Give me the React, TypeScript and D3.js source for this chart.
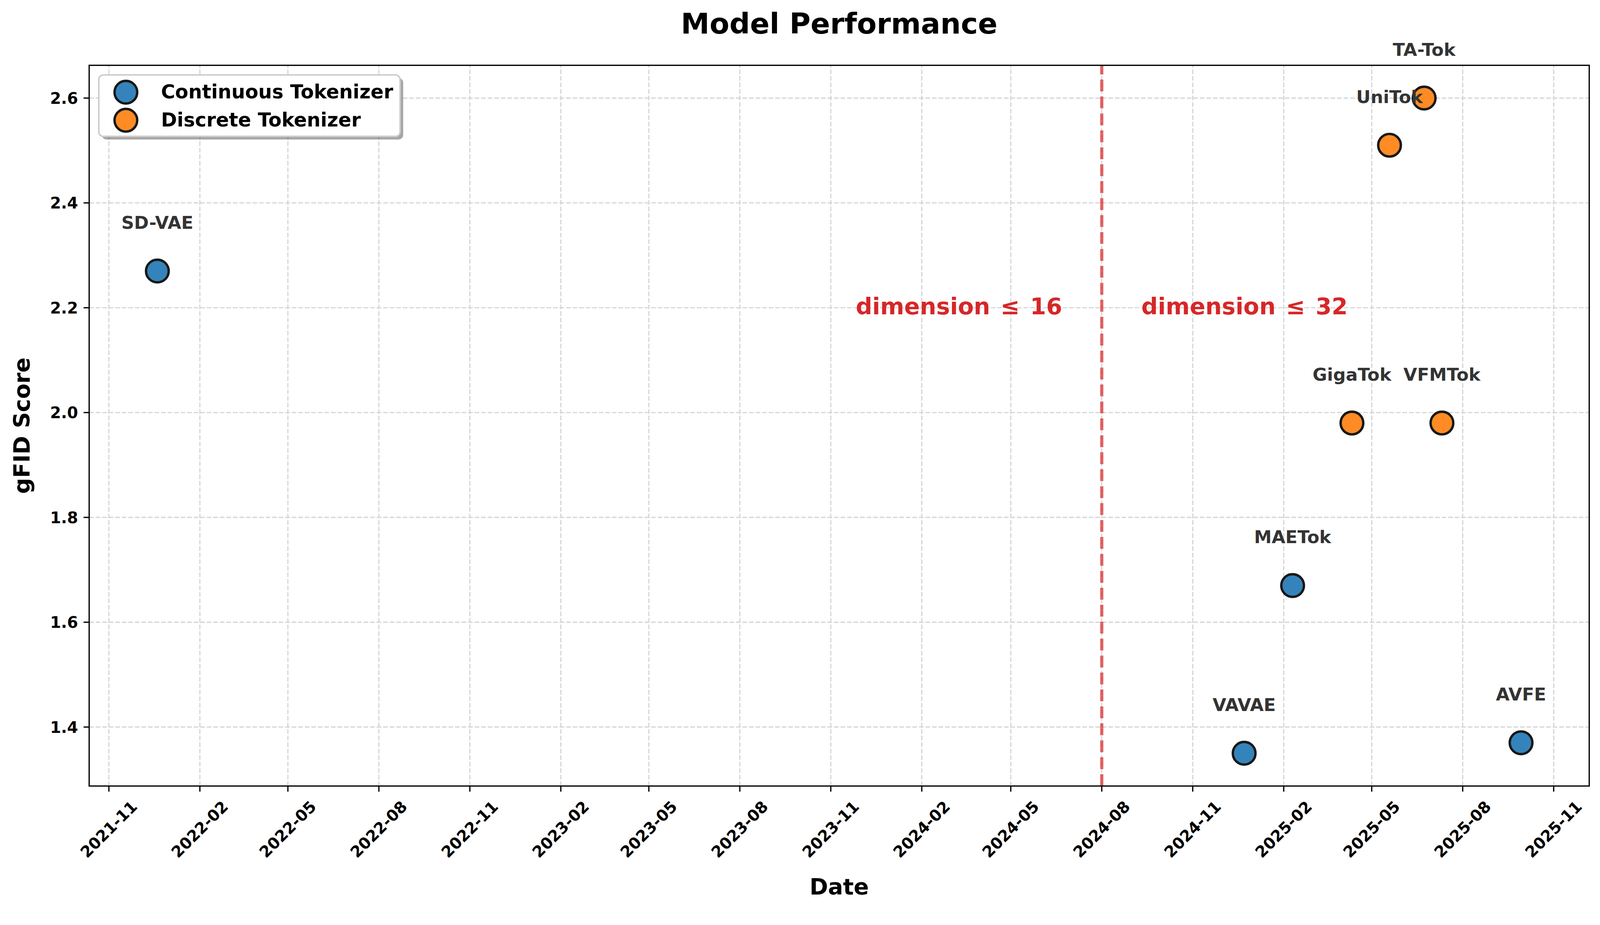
import React, { useEffect, useRef } from 'react';
import * as d3 from 'd3';

// data
const models = ['SD-VAE', 'VAVAE', 'MAETok', 'AVFE', 'GigaTok', 'UniTok', 'TA-Tok', 'VFMTok'];
const releaseDates = ['2021-12-20', '2024-12-23', '2025-02-10', '2025-09-29', '2025-04-11', '2025-05-19', '2025-06-23', '2025-07-11'];
const gfidScores = [2.27, 1.35, 1.67, 1.37, 1.98, 2.51, 2.6, 1.98];
const tokenizerKinds = ['Continuous', 'Continuous', 'Continuous', 'Continuous', 'Discrete', 'Discrete', 'Discrete', 'Discrete'];

const seriesKinds = ['Continuous', 'Discrete'];
const seriesNames = ['Continuous Tokenizer', 'Discrete Tokenizer'];

const xTickLabels = [
  '2021-11', '2022-02', '2022-05', '2022-08', '2022-11', '2023-02', '2023-05', '2023-08',
  '2023-11', '2024-02', '2024-05', '2024-08', '2024-11', '2025-02', '2025-05', '2025-08', '2025-11',
];
const yTicks = [1.4, 1.6, 1.8, 2.0, 2.2, 2.4, 2.6];

const splitDate = '2024-08-01';
const regionLabels = ['dimension \u200A\u2264\u200A 16', 'dimension \u200A\u2264\u200A 32'];
const regionOffsetDays = 40;
const regionY = 2.2;

const W = 4163;
const H = 2369;
const M = { left: 232, right: 4135, top: 170, bottom: 2046 };
const FONT = '"DejaVu Sans", sans-serif';

const App: React.FC = () => {
  const svgRef = useRef<SVGSVGElement>(null);

  useEffect(() => {
    document.body.style.margin = '0';
    document.body.style.overflow = 'hidden';
    if (!svgRef.current) return;
    const svg = d3.select(svgRef.current);
    svg.selectAll('*').remove();

    const parse = d3.utcParse('%Y-%m-%d');
    const parseMonth = d3.utcParse('%Y-%m');
    const pts = models.map((name, i) => ({
      name,
      date: parse(releaseDates[i]) as Date,
      score: gfidScores[i],
      kind: tokenizerKinds[i],
    }));

    // matplotlib-like 5% auto margins
    const [t0, t1] = d3.extent(pts, d => d.date.getTime()) as [number, number];
    const padX = (t1 - t0) * 0.05;
    const x = d3.scaleUtc().domain([new Date(t0 - padX), new Date(t1 + padX)]).range([M.left, M.right]);
    const [s0, s1] = d3.extent(gfidScores) as [number, number];
    const padY = (s1 - s0) * 0.05;
    const y = d3.scaleLinear().domain([s0 - padY, s1 + padY]).range([M.bottom, M.top]);

    const color = d3.scaleOrdinal<string, string>().domain(seriesKinds).range(['#1f77b4', '#ff7f0e']);
    const xTicks = xTickLabels.map(s => parseMonth(s) as Date);

    svg.append('rect').attr('width', W).attr('height', H).attr('fill', '#fff');

    // grid
    const grid = svg.append('g').attr('stroke', '#d4d4d4').attr('stroke-width', 3).attr('stroke-dasharray', '12 5');
    grid.selectAll('line.gx').data(xTicks).enter().append('line')
      .attr('x1', d => x(d)).attr('x2', d => x(d)).attr('y1', M.bottom).attr('y2', M.top);
    grid.selectAll('line.gy').data(yTicks).enter().append('line')
      .attr('x1', M.left).attr('x2', M.right).attr('y1', d => y(d)).attr('y2', d => y(d));

    // split line
    const sx = x(parse(splitDate) as Date);
    svg.append('line')
      .attr('x1', sx).attr('x2', sx).attr('y1', M.bottom).attr('y2', M.top)
      .attr('stroke', '#d62728').attr('stroke-opacity', 0.7)
      .attr('stroke-width', 8.3).attr('stroke-dasharray', '30.8 13.3');

    const splitTime = (parse(splitDate) as Date).getTime();
    const dayMs = 86400000;
    regionLabels.forEach((label, i) => {
      const side = i === 0 ? -1 : 1;
      svg.append('text')
        .attr('x', x(new Date(splitTime + side * regionOffsetDays * dayMs)))
        .attr('y', y(regionY) + 17)
        .attr('text-anchor', i === 0 ? 'end' : 'start')
        .attr('font-family', FONT).attr('font-weight', 'bold').attr('font-size', 60)
        .attr('fill', '#d62728')
        .text(label);
    });

    // points
    svg.selectAll('circle.pt').data(pts).enter().append('circle')
      .attr('cx', d => x(d.date)).attr('cy', d => y(d.score)).attr('r', 29.5)
      .attr('fill', d => color(d.kind)).attr('stroke', '#000').attr('stroke-width', 6.25)
      .attr('opacity', 0.9);

    svg.selectAll('text.lbl').data(pts).enter().append('text')
      .attr('x', d => x(d.date)).attr('y', d => y(d.score) - 110)
      .attr('text-anchor', 'middle')
      .attr('font-family', FONT).attr('font-weight', 'bold').attr('font-size', 46)
      .attr('fill', '#333333')
      .text(d => d.name);

    // frame
    svg.append('rect')
      .attr('x', M.left).attr('y', M.top).attr('width', M.right - M.left).attr('height', M.bottom - M.top)
      .attr('fill', 'none').attr('stroke', '#000').attr('stroke-width', 3.3);

    // x ticks
    const xt = svg.append('g');
    xTicks.forEach((d, i) => {
      xt.append('line').attr('x1', x(d)).attr('x2', x(d)).attr('y1', M.bottom).attr('y2', M.bottom + 14.6)
        .attr('stroke', '#000').attr('stroke-width', 3.3);
      xt.append('text')
        .attr('transform', `translate(${x(d)},2159) rotate(-45)`)
        .attr('text-anchor', 'middle').attr('dominant-baseline', 'central')
        .attr('font-family', FONT).attr('font-weight', 'bold').attr('font-size', 41)
        .text(xTickLabels[i]);
    });

    // y ticks
    const yt = svg.append('g');
    yTicks.forEach(v => {
      yt.append('line').attr('x1', M.left - 14.6).attr('x2', M.left).attr('y1', y(v)).attr('y2', y(v))
        .attr('stroke', '#000').attr('stroke-width', 3.3);
      yt.append('text')
        .attr('x', M.left - 29).attr('y', y(v)).attr('dy', '0.36em')
        .attr('text-anchor', 'end')
        .attr('font-family', FONT).attr('font-weight', 'bold').attr('font-size', 41)
        .text(d3.format('.1f')(v));
    });

    // axis labels + title
    const cx = (M.left + M.right) / 2;
    svg.append('text').attr('x', cx).attr('y', 2328).attr('text-anchor', 'middle')
      .attr('font-family', FONT).attr('font-weight', 'bold').attr('font-size', 58).text('Date');
    svg.append('text').attr('transform', `translate(77,${(M.top + M.bottom) / 2}) rotate(-90)`)
      .attr('text-anchor', 'middle')
      .attr('font-family', FONT).attr('font-weight', 'bold').attr('font-size', 58).text('gFID Score');
    svg.append('text').attr('x', cx).attr('y', 87).attr('text-anchor', 'middle')
      .attr('font-family', FONT).attr('font-weight', 'bold').attr('font-size', 75).text('Model Performance');

    // legend
    const lg = svg.append('g');
    lg.append('rect').attr('x', 265).attr('y', 203).attr('width', 784).attr('height', 160).attr('rx', 12)
      .attr('fill', '#4d4d4d').attr('opacity', 0.5);
    lg.append('rect').attr('x', 257).attr('y', 195).attr('width', 784).attr('height', 160).attr('rx', 12)
      .attr('fill', '#fff').attr('stroke', '#cccccc').attr('stroke-width', 4);
    seriesNames.forEach((name, i) => {
      const ry = 240 + i * 73;
      lg.append('circle').attr('cx', 327.5).attr('cy', ry).attr('r', 29.5)
        .attr('fill', color(seriesKinds[i])).attr('stroke', '#000').attr('stroke-width', 6.25).attr('opacity', 0.9);
      lg.append('text').attr('x', 419).attr('y', ry + 16)
        .attr('font-family', FONT).attr('font-weight', 'bold').attr('font-size', 50)
        .text(name);
    });
  }, []);

  return (
    <svg
      ref={svgRef}
      viewBox={`0 0 ${W} ${H}`}
      style={{ display: 'block', width: '100vw', height: 'auto' }}
    />
  );
};

export default App;
